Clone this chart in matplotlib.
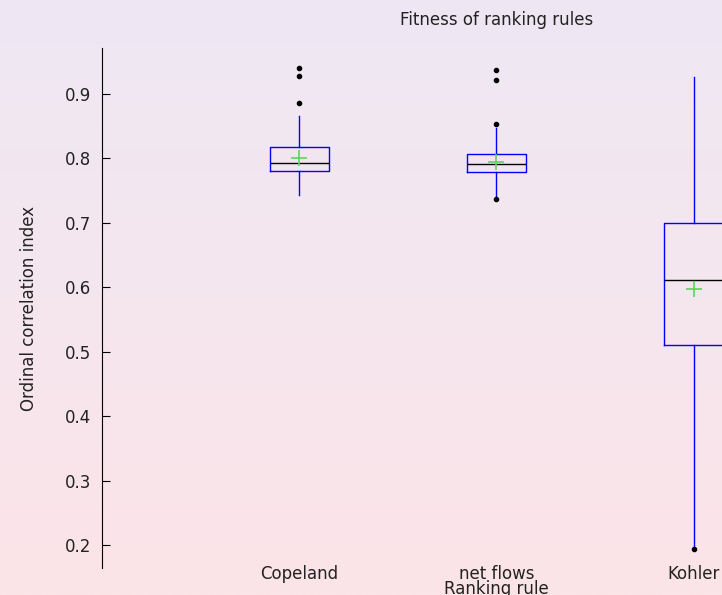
import matplotlib.pyplot as plt
import numpy as np

# summary stats
rules = ['Copeland', 'net flows', 'Kohler']
q1 = [0.780, 0.779, 0.510]
med = [0.793, 0.791, 0.611]
q3 = [0.817, 0.807, 0.700]
whislo = [0.744, 0.738, 0.195]
whishi = [0.866, 0.848, 0.926]
means = [0.800, 0.795, 0.598]
fliers = [[0.886, 0.928, 0.941], [0.737, 0.853, 0.921, 0.937], [0.194]]

stats = []
for i in range(len(rules)):
    stats.append(dict(label=rules[i], q1=q1[i], med=med[i], q3=q3[i],
                      whislo=whislo[i], whishi=whishi[i], mean=means[i],
                      fliers=fliers[i]))

fig = plt.figure(figsize=(7.22, 5.95), dpi=100)

# gradient background, lavender on top to pink at the bottom
bg = fig.add_axes([0, 0, 1, 1], zorder=-1)
top = np.array([238, 232, 244]) / 255.
bot = np.array([252, 228, 232]) / 255.
t = np.linspace(0, 1, 256)[:, None]
grad = (top[None, :] * (1 - t) + bot[None, :] * t)[:, None, :]
bg.imshow(grad, aspect='auto', extent=[0, 1, 0, 1])
bg.axis('off')

W, H = 722., 595.
ax = fig.add_axes([102 / W, 27 / H, 789 / W, 520 / H])
ax.set_facecolor('none')

ax.bxp(stats, positions=[1, 2, 3], widths=0.3, showmeans=True, showcaps=False,
       boxprops=dict(color='blue', linewidth=1),
       whiskerprops=dict(color='blue', linewidth=1),
       medianprops=dict(color='black', linewidth=1),
       meanprops=dict(marker='+', markeredgecolor='#5fd35f', markersize=12,
                      markeredgewidth=1.2),
       flierprops=dict(marker='o', markerfacecolor='black',
                       markeredgecolor='black', markersize=3))

ax.set_xlim(0, 4)
ax.set_ylim(0.1643, 0.9714)
ax.set_yticks([0.2, 0.3, 0.4, 0.5, 0.6, 0.7, 0.8, 0.9])
for s in ['top', 'right', 'bottom']:
    ax.spines[s].set_visible(False)
ax.tick_params(axis='y', direction='in', length=6, labelsize=12, pad=8,
               labelcolor='#222222')
ax.tick_params(axis='x', length=0, labelsize=12, pad=-2, labelcolor='#222222')
ax.set_xticklabels(rules)
ax.set_xlabel('Ranking rule', fontsize=12, labelpad=-2, color='#222222')
ax.set_ylabel('Ordinal correlation index', fontsize=12, labelpad=19,
              color='#222222')
ax.set_title('Fitness of ranking rules', fontsize=12, pad=16.5, color='#222222')

fig.savefig('out.png', dpi=100)
